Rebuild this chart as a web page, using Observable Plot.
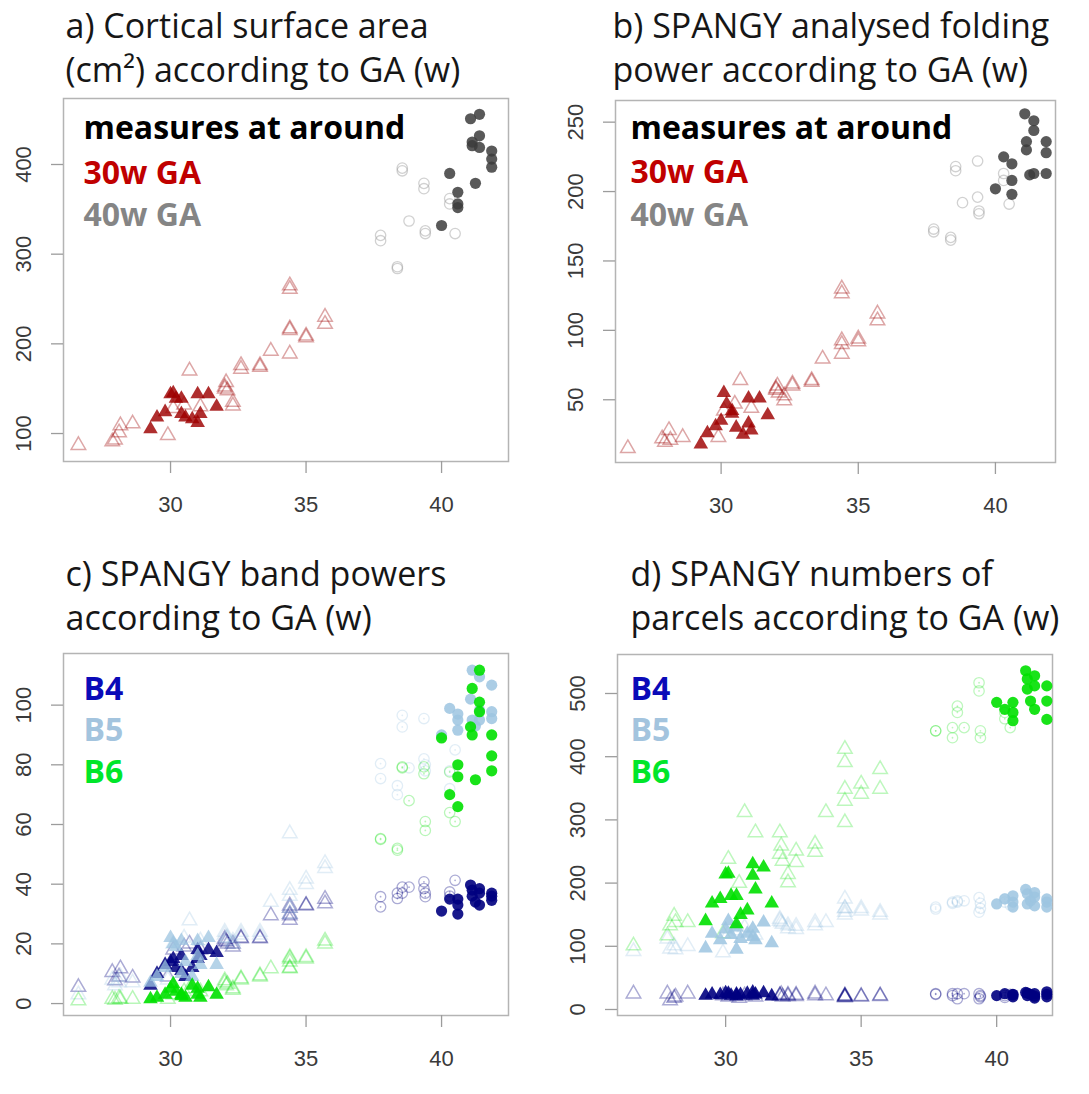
<!DOCTYPE html>
<html><head><meta charset="utf-8">
<script src="https://cdn.jsdelivr.net/npm/d3@7"></script>
<script src="https://cdn.jsdelivr.net/npm/@observablehq/plot@0.6"></script>
<style>
body{margin:0;background:#fff;}
#wrap{position:relative;width:1089px;height:1094px;background:#fff;}
.panel{position:absolute;}
</style></head><body><div id="wrap"></div>
<script>
// ---------- DATA ----------
// open triangles: preterm measures (not at ~30w)
const otAge = [26.6,27.85,27.95,28.1,28.15,28.6,29.9,30.1,30.5,30.7,31.1,32.0,32.05,32.3,32.3,32.6,33.3,33.7,34.4,34.4,34.4,34.4,35.0,35.7,35.7,32.0,32.1,32.6,33.3,34.4,35.0];
const otArea = [87,91,93,101,109,111,98,128,132,170,130,150,157,135,131,176,174,192,217,189,265,261,209,230,222,152,148,172,176,215,207];
const otFold = [15,22,19.5,28,21,23,23,42,47,64,44,57,60,49.5,53,61.5,62.7,79.5,92.7,83,130,126.6,94,112,107,58,55,60,64,90,92];
const otB4p = [5.5,10.5,7.7,9,11.7,8.6,9,18,19,20,18,21.7,20.7,19,20,21.8,21.8,29.5,32.8,29.5,32,28,32.8,35,33.5,21,20,22,22,30,33];
const otB5p = [3,8,6,7,9,7,8,20,22,27.8,21,24,22,21,20,24,23,34,38,32,57,30,41.8,47,45.3,23,22,23,24,36,40];
const otB6p = [1,1.5,1.2,1.8,1.5,1.5,1.5,3,4,5,4,7.7,6,5,4.5,8.4,9.4,11.7,15.5,11.7,15,12,15.5,21,20,7,6.5,8,9,14,15];
const otB4n = [25,25,14,18,20,25,22,20,18,22,20,22,24,21,23,23,25,22,20,19,21,22,20,22,21,22,20,21,22,20,21];
const otB5n = [92,112,96,101,95,100,90,120,125,130,118,143,138,133,128,127,133,138,175,154,160,150,156,154,150,140,135,132,138,160,160];
const otB6n = [101,117,133,148,138,138,120,238,200,312,280,280,259,214,201,251,262,312,412,391,349,296,357,380,349,246,235,233,249,330,341];

// filled triangles: measures at around 30w GA
const ftAge = [29.26,29.5,29.8,30.0,30.1,30.2,30.4,30.4,30.55,30.8,31.0,31.0,31.1,31.4,31.7];
const ftArea = [105,118,124,144,145,139,139,122,118,116,144,112,122,144,130];
const ftFold = [18,26,31,35,55,47,42,40,30,25,51,33,28,51,39];
const ftB4p = [6,10,13,14,15,12,11,16,9,12,18,15,16,18,17];
const ftB5p = [7,9,12,22,20,19,21,10,14,9,21,16,13,22,13];
const ftB6p = [1.5,2,3,5,6.5,4,3,2.5,2,6,5,3,2,5.5,3];
const ftB4n = [22,24,23,26,25,22,24,21,23,25,27,22,24,26,21];
const ftB5n = [97,120,110,127,140,118,130,95,112,120,128,115,110,138,105];
const ftB6n = [140,168,175,214,215,180,180,135,150,157,230,212,190,225,168];

// open circles: term-age measures (not at ~40w)
const ocAge = [37.75,37.75,38.37,38.55,38.55,38.8,39.35,39.35,39.4,39.4,40.3,40.3,40.5,38.37];
const ocArea = [321,315,284,393,396,337,379,373,326,323,356,362,323,286];
const ocFold = [173,171,167,215,218,192,222,196,186,184,213,208,191,165];
const ocB4p = [35.8,32.4,35.2,39,37,39,40.8,38.5,35.8,37,37.4,36,41.3,37];
const ocB5p = [80.4,75.4,73,96.6,92.7,79,95.5,82,80,78,78,72,85,70];
const ocB6p = [55.3,55,51.4,79.3,79,68,79.3,77,61,58,77.6,64,61,52];
const ocB4n = [25,24,25,17,25,25,25,17,22,20,22,19,24,22];
const ocB5n = [159,162,170,170,172,172,177,154,168,160,175,170,165,168];
const ocB6n = [441,441,446,480,470,446,517,504,441,430,470,460,446,430];

// filled circles: measures at around 40w GA
const fcAge = [40.0,40.3,40.6,40.6,40.6,41.07,41.13,41.13,41.25,41.4,41.4,41.4,41.85,41.85,41.85];
const fcArea = [332,390,369,356,352,451,425,421,379,456,432,419,415,397,406];
const fcFold = [202,225,220,208,198,256,236,230,212,251,244,213,236,213,228];
const fcB4p = [31,35,35,33,30,39.7,38,36,34,38.5,37,33,37,34.6,36];
const fcB5p = [90,98.9,95,91.6,97,102,111.7,95,93,109.5,98.3,95,106.7,97.8,95.5];
const fcB6p = [89,70,80,76,66,92.7,105.6,90,75,111.7,101,97.8,90,83,78];
const fcB4n = [22,25,24,20,23,27,26,22,24,25,21,18,28,24,20];
const fcB5n = [167,175,162,170,180,190,183,167,172,185,164,178,175,162,170];
const fcB6n = [486,475,486,470,457,536,523,507,488,528,512,475,512,488,459];

const xTicks = [30,35,40];
const yTicksA = [100,200,300,400];
const yTicksB = [50,100,150,200,250];
const yTicksC = [0,20,40,60,80,100];
const yTicksD = [0,100,200,300,400,500];

const titles = {
  a: ["a) Cortical surface area", "(cm\u00B2) according to GA (w)"],
  b: ["b) SPANGY analysed folding", "power according to GA (w)"],
  c: ["c) SPANGY band powers", "according to GA (w)"],
  d: ["d) SPANGY numbers of", "parcels according to GA (w)"]
};
const legendAB = ["measures at around", "30w GA", "40w GA"];
const legendCD = ["B4", "B5", "B6"];

// ---------- STYLE ----------
const C = {
  red: "#9e0000", gray: "#3c3c3c", lgray: "#9a9a9a",
  b4: "#000080", b5: "#9cc4e0", b6: "#00e000",
  legRed: "#c00000", legGray: "#858585", legB4: "#0a0ab8", legB5: "#a3c4de", legB6: "#00e62a"
};
const TITLE_FONT = "'Open Sans', Lato, sans-serif";
const TICK_FONT = "'Liberation Sans', Arial, sans-serif";
const TITLE_SIZE = 34;
const TITLE_GAP = 44;

const rows = (ages, vals) => ages.map((x, i) => ({x, y: vals[i]}));

function openTri(ages, vals, color, op = 0.4) {
  return Plot.dot(rows(ages, vals), {x: "x", y: "y", symbol: "triangle", r: 5.4, fill: "none", stroke: color, strokeOpacity: op, strokeWidth: 1.5});
}
function fillTri(ages, vals, color, op = 0.8) {
  return Plot.dot(rows(ages, vals), {x: "x", y: "y", symbol: "triangle", r: 5.4, fill: color, fillOpacity: op, stroke: "none"});
}
function openCirc(ages, vals, color, op = 0.4, centre = false) {
  const m = [Plot.dot(rows(ages, vals), {x: "x", y: "y", r: 5.2, fill: "none", stroke: color, strokeOpacity: op, strokeWidth: 1.3})];
  if (centre) m.push(Plot.dot(rows(ages, vals), {x: "x", y: "y", r: 0.9, fill: color, fillOpacity: op, stroke: "none"}));
  return m;
}
function fillCirc(ages, vals, color, op = 0.85) {
  return Plot.dot(rows(ages, vals), {x: "x", y: "y", r: 5.6, fill: color, fillOpacity: op, stroke: "none"});
}

function makePanel(cfg) {
  const t = cfg.title;
  const marks = [
    Plot.frame({stroke: "#b4b4b4", strokeWidth: 1.5}),
    Plot.axisX(xTicks, {tickSize: 12, tickFormat: () => "", label: null, stroke: "#9c9c9c", strokeWidth: 1.3}),
    Plot.axisY(cfg.yTicks, {tickSize: 12, tickFormat: () => "", label: null, stroke: "#9c9c9c", strokeWidth: 1.3}),
    Plot.text(xTicks, {x: d => d, text: d => String(d), frameAnchor: "bottom", dy: 43, lineAnchor: "middle", fontSize: 22, fill: "#3a3a3a", fontFamily: TICK_FONT}),
    Plot.text(cfg.yTicks, {y: d => d, text: d => String(d), frameAnchor: "left", dx: -40, rotate: -90, textAnchor: "middle", lineAnchor: "middle", fontSize: 22, fill: "#3a3a3a", fontFamily: TICK_FONT}),
    Plot.text([t[0]], {frameAnchor: "top-left", textAnchor: "start", lineAnchor: "bottom", dx: cfg.tdx, dy: cfg.tdy2 - TITLE_GAP, fontSize: TITLE_SIZE, fill: "#161616", fontFamily: TITLE_FONT}),
    Plot.text([t[1]], {frameAnchor: "top-left", textAnchor: "start", lineAnchor: "bottom", dx: cfg.tdx, dy: cfg.tdy2, fontSize: TITLE_SIZE, fill: "#161616", fontFamily: TITLE_FONT}),
    ...cfg.points
  ];
  cfg.legend.forEach((s, i) => {
    marks.push(Plot.text([s], {frameAnchor: "top-left", textAnchor: "start", lineAnchor: "bottom", dx: cfg.ldx, dy: cfg.ldy[i], fontSize: 32, fontWeight: "bold", fill: cfg.lcol[i], fontFamily: TITLE_FONT}));
  });
  const svg = Plot.plot({
    width: cfg.width, height: cfg.height,
    marginLeft: cfg.m[3], marginRight: cfg.m[1], marginTop: cfg.m[0], marginBottom: cfg.m[2],
    x: {domain: cfg.xDomain, axis: null},
    y: {domain: cfg.yDomain, axis: null},
    style: {background: "transparent", overflow: "visible"},
    marks
  });
  svg.classList.add("panel");
  svg.style.left = cfg.left + "px";
  svg.style.top = cfg.top + "px";
  document.getElementById("wrap").appendChild(svg);
}

// Panel a
makePanel({
  left: 0, top: 0, width: 545, height: 545, m: [98, 37, 84, 63],
  xDomain: [26.05, 42.47], yDomain: [68.8, 473.6], yTicks: yTicksA,
  title: titles.a, tdx: 2, tdy2: -17,
  legend: legendAB, lcol: ["#000", C.legRed, C.legGray], ldx: 20, ldy: [40, 85, 127],
  points: [
    openTri(otAge, otArea, C.red, 0.35),
    ...openCirc(ocAge, ocArea, C.lgray, 0.45),
    fillTri(ftAge, ftArea, C.red, 0.82),
    fillCirc(fcAge, fcArea, C.gray, 0.85)
  ]
});
// Panel b
makePanel({
  left: 545, top: 0, width: 544, height: 545, m: [100, 34, 83, 70],
  xDomain: [26.15, 42.19], yDomain: [4.8, 265.6], yTicks: yTicksB,
  title: titles.b, tdx: -3, tdy2: -19,
  legend: legendAB, lcol: ["#000", C.legRed, C.legGray], ldx: 15, ldy: [38, 82, 125],
  points: [
    openTri(otAge, otFold, C.red, 0.35),
    ...openCirc(ocAge, ocFold, C.lgray, 0.45),
    fillTri(ftAge, ftFold, C.red, 0.82),
    fillCirc(fcAge, fcFold, C.gray, 0.85)
  ]
});
// Panel c
makePanel({
  left: 0, top: 545, width: 545, height: 549, m: [108, 37, 79, 63],
  xDomain: [26.05, 42.47], yDomain: [-4, 117.3], yTicks: yTicksC,
  title: titles.c, tdx: 2, tdy2: -24,
  legend: legendCD, lcol: [C.legB4, C.legB5, C.legB6], ldx: 20, ldy: [46, 87, 129],
  points: [
    openTri(otAge, otB4p, C.b4, 0.33), openTri(otAge, otB5p, C.b5, 0.3), openTri(otAge, otB6p, C.b6, 0.28),
    ...openCirc(ocAge, ocB4p, C.b4, 0.33, true), ...openCirc(ocAge, ocB5p, C.b5, 0.3, true), ...openCirc(ocAge, ocB6p, C.b6, 0.28, true),
    fillTri(ftAge, ftB4p, C.b4, 0.85), fillTri(ftAge, ftB5p, C.b5, 0.75), fillTri(ftAge, ftB6p, C.b6, 0.9),
    fillCirc(fcAge, fcB4p, C.b4, 0.9), fillCirc(fcAge, fcB5p, C.b5, 0.85), fillCirc(fcAge, fcB6p, C.b6, 0.9)
  ]
});
// Panel d
makePanel({
  left: 545, top: 545, width: 544, height: 549, m: [109, 37, 79, 72],
  xDomain: [26.01, 42.06], yDomain: [-9.5, 561.7], yTicks: yTicksD,
  title: titles.d, tdx: 13, tdy2: -25,
  legend: legendCD, lcol: [C.legB4, C.legB5, C.legB6], ldx: 13, ldy: [45, 86, 128],
  points: [
    openTri(otAge, otB4n, C.b4, 0.33), openTri(otAge, otB5n, C.b5, 0.3), openTri(otAge, otB6n, C.b6, 0.26),
    ...openCirc(ocAge, ocB4n, C.b4, 0.33, true), ...openCirc(ocAge, ocB5n, C.b5, 0.3, true), ...openCirc(ocAge, ocB6n, C.b6, 0.26, true),
    fillTri(ftAge, ftB4n, C.b4, 0.9), fillTri(ftAge, ftB5n, C.b5, 0.85), fillTri(ftAge, ftB6n, C.b6, 0.9),
    fillCirc(fcAge, fcB4n, C.b4, 0.9), fillCirc(fcAge, fcB5n, C.b5, 0.85), fillCirc(fcAge, fcB6n, C.b6, 0.9)
  ]
});
</script></body></html>
